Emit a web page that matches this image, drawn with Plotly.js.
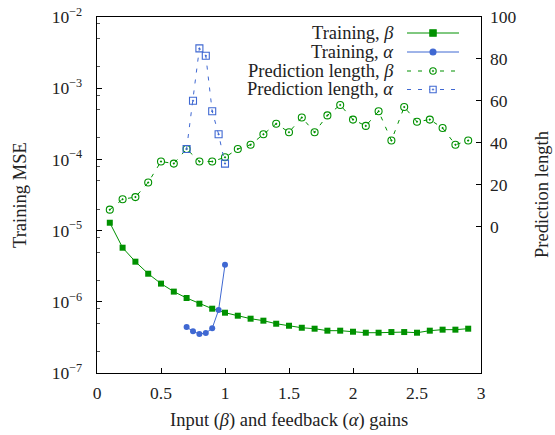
<!DOCTYPE html>
<html>
<head>
<meta charset="utf-8">
<script src="https://cdn.plot.ly/plotly-3.0.1.min.js"></script>
<style>html,body{margin:0;padding:0;background:#fff;}#plot{width:555px;height:435px;}</style>
</head>
<body>
<div id="plot"></div>
<script>
// ---- Data ----
const betaX = [0.1,0.2,0.3,0.4,0.5,0.6,0.7,0.8,0.9,1.0,1.1,1.2,1.3,1.4,1.5,1.6,1.7,1.8,1.9,2.0,2.1,2.2,2.3,2.4,2.5,2.6,2.7,2.8,2.9];
const trainBeta = [1.29e-5,5.75e-6,3.66e-6,2.48e-6,1.80e-6,1.39e-6,1.13e-6,9.4e-7,8.0e-7,7.03e-7,6.38e-7,5.79e-7,5.43e-7,4.92e-7,4.61e-7,4.32e-7,4.19e-7,3.93e-7,3.93e-7,3.80e-7,3.68e-7,3.68e-7,3.76e-7,3.76e-7,3.68e-7,3.93e-7,4.06e-7,4.06e-7,4.19e-7];
const predBeta = [8,13,14,21,31,30,37,31,31,33,37,39,44,49,45,52,45,53,58,51,48,55,41,57,50,51,47,39,41];
const alphaX = [0.7,0.75,0.8,0.85,0.9,0.95,1.0];
const trainAlpha = [4.42e-7,3.85e-7,3.53e-7,3.64e-7,4.25e-7,7.67e-7,3.32e-6];
const predAlpha = [37,60,85,81.5,55,44,30];
const xTicks = [0,0.5,1,1.5,2,2.5,3];
const xTickText = ['0','0.5','1','1.5','2','2.5','3'];
const yExp = [-7,-6,-5,-4,-3,-2];
const y2Ticks = [0,20,40,60,80,100];
const legendNames = ['Training, <i>β</i>','Training, <i>α</i>','Prediction length, <i>β</i>','Prediction length, <i>α</i>'];

const GREEN = '#009100';
const BLUE = '#3f68d2';
const FONT = '"Liberation Serif", "DejaVu Serif", serif';
const TXT = 18.5, TICK = 17.5;

// plot area in pixels
const L = 97, R = 481, T = 17, B = 373, W = 555, H = 435;
const px = x => (x - L) / (R - L);
const py = y => (B - y) / (B - T);

const yTickVals = yExp.map(e => Math.pow(10, e));
const yTickText = yExp.map(e => '10<sup>−' + (-e) + '</sup>');
const yMinor = [];
yExp.slice(0, -1).forEach(e => [2,5,8].forEach(m => yMinor.push(m * Math.pow(10, e))));

const traces = [
  {x: betaX, y: trainBeta, yaxis: 'y', mode: 'lines+markers', line: {color: GREEN, width: 1}, marker: {symbol: 'square', size: 6, color: GREEN}},
  {x: alphaX, y: trainAlpha, yaxis: 'y', mode: 'lines+markers', line: {color: BLUE, width: 1}, marker: {symbol: 'circle', size: 6, color: BLUE}},
  {x: betaX, y: predBeta, yaxis: 'y2', mode: 'lines+markers', line: {color: GREEN, width: 1, dash: '4px,7px'}, marker: {symbol: 'circle-open-dot', size: 7, color: GREEN, line: {width: 1.1}}},
  {x: alphaX, y: predAlpha, yaxis: 'y2', mode: 'lines+markers', line: {color: BLUE, width: 1, dash: '4px,7px'}, marker: {symbol: 'square-open-dot', size: 7, color: BLUE, line: {width: 1.1}}}
];

// manual legend (text left, sample right, as in the reference)
const rowsY = [33, 52, 71, 89.5];
const shapes = [];
const annotations = [];
const colors = [GREEN, BLUE, GREEN, BLUE];
rowsY.forEach((ry, i) => {
  annotations.push({xref: 'paper', yref: 'paper', x: px(396), y: py(ry), xanchor: 'right', yanchor: 'middle', showarrow: false, text: legendNames[i], font: {family: FONT, size: TXT, color: '#222'}});
  shapes.push({type: 'line', xref: 'paper', yref: 'paper', x0: px(407), x1: px(459), y0: py(ry), y1: py(ry), line: {color: colors[i], width: 1, dash: i >= 2 ? '4px,7px' : 'solid'}});
  const cx = 433, r = i === 1 ? 3 : 3.2;
  if (i === 0 || i === 3) {
    shapes.push({type: 'rect', xref: 'paper', yref: 'paper', x0: px(cx - r), x1: px(cx + r), y0: py(ry + r), y1: py(ry - r), line: {color: colors[i], width: 1.1}, fillcolor: i === 0 ? colors[i] : '#fff'});
  } else {
    shapes.push({type: 'circle', xref: 'paper', yref: 'paper', x0: px(cx - r), x1: px(cx + r), y0: py(ry + r), y1: py(ry - r), line: {color: colors[i], width: 1.1}, fillcolor: i === 1 ? colors[i] : '#fff'});
  }
  if (i >= 2) {
    shapes.push({type: 'circle', xref: 'paper', yref: 'paper', x0: px(cx - 0.8), x1: px(cx + 0.8), y0: py(ry + 0.8), y1: py(ry - 0.8), line: {color: colors[i], width: 0.5}, fillcolor: colors[i]});
  }
});

// axis titles
annotations.push({xref: 'paper', yref: 'paper', x: px(289), y: py(421), xanchor: 'center', yanchor: 'middle', showarrow: false, text: 'Input (<i>β</i>) and feedback (<i>α</i>) gains', font: {family: FONT, size: TXT, color: '#222'}});
annotations.push({xref: 'paper', yref: 'paper', x: px(20), y: py(195), xanchor: 'center', yanchor: 'middle', textangle: -90, showarrow: false, text: 'Training MSE', font: {family: FONT, size: TXT, color: '#222'}});
annotations.push({xref: 'paper', yref: 'paper', x: px(542), y: py(195), xanchor: 'center', yanchor: 'middle', textangle: -90, showarrow: false, text: 'Prediction length', font: {family: FONT, size: TXT, color: '#222'}});

const layout = {
  width: W, height: H,
  margin: {l: L, r: W - R, t: T, b: H - B, pad: 0},
  paper_bgcolor: '#fff', plot_bgcolor: '#fff',
  showlegend: false,
  font: {family: FONT, size: TICK, color: '#222'},
  xaxis: {range: [0, 3], tickvals: xTicks, ticktext: xTickText, ticks: 'inside', ticklen: 5, tickcolor: '#000',
          showline: true, linecolor: '#000', linewidth: 1.3, mirror: true, showgrid: false, zeroline: false,
          tickfont: {family: FONT, size: TICK, color: '#222'}, ticklabelstandoff: 4},
  yaxis: {type: 'log', range: [-7, -2], tickvals: yTickVals, ticktext: yTickText, ticks: 'inside', ticklen: 5, tickcolor: '#000',
          minor: {tickvals: yMinor, ticks: 'inside', ticklen: 3, tickcolor: '#555', showgrid: false},
          showline: true, linecolor: '#000', linewidth: 1.3, mirror: true, showgrid: false, zeroline: false,
          tickfont: {family: FONT, size: TICK, color: '#222'}, ticklabelstandoff: 10},
  yaxis2: {overlaying: 'y', side: 'right', range: [-70, 100], tickvals: y2Ticks, ticks: 'inside', ticklen: 5, tickcolor: '#000',
           showline: false, showgrid: false, zeroline: false,
           tickfont: {family: FONT, size: TICK, color: '#222'}, ticklabelstandoff: 8},
  shapes: shapes,
  annotations: annotations
};

Plotly.newPlot('plot', traces, layout, {displayModeBar: false, staticPlot: true});
</script>
</body>
</html>
